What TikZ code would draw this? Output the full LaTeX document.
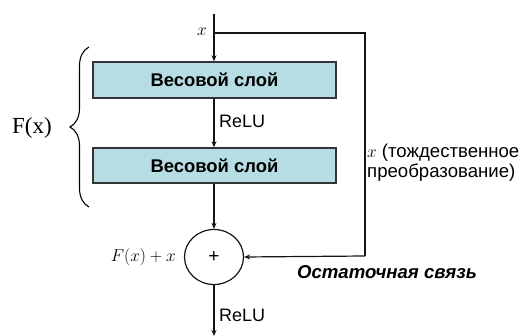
\documentclass[tikz,border=0pt]{standalone}
\usepackage{fontspec}
\setmainfont{Liberation Sans}
\newfontfamily\serifF{Liberation Serif}
\usetikzlibrary{arrows.meta,shapes.geometric,decorations.pathreplacing}
\definecolor{boxfill}{RGB}{183,221,228}
\definecolor{lineclr}{RGB}{20,20,20}
\begin{document}
\begin{tikzpicture}[x=1pt,y=-1pt,
  conn/.style={draw=lineclr,line width=1.2pt,-{Stealth[length=6pt,width=5pt]}},
  plain/.style={draw=lineclr,line width=1.2pt},
  layerbox/.style={draw=black!80,line width=1.4pt,fill=boxfill,minimum width=243pt,
     inner sep=0pt,font=\fontsize{18.4}{20}\selectfont\bfseries},
  sumnode/.style={ellipse,draw=lineclr,line width=1.2pt,minimum width=59pt,minimum height=55pt,
     inner sep=0pt,font=\fontsize{19}{20}\selectfont},
  lbl/.style={font=\fontsize{18}{20}\selectfont,inner sep=0pt},
  mlbl/.style={font=\fontsize{19}{20}\selectfont,inner sep=0pt}]
\useasboundingbox (0,0) rectangle (525,336);
\coordinate (top) at (214,14);
\coordinate (split) at (214,33);
\node[layerbox,minimum height=36pt] (w1) at (214.5,80) {Весовой слой};
\node[layerbox,minimum height=35pt] (w2) at (214.5,165.5) {Весовой слой};
\node[sumnode] (sum) at (214,257) {+};
\coordinate (bot) at (214,336);
\coordinate (rt) at (365,33);
\coordinate (rb) at (365,256);
\draw[conn] (top) -- (w1.north -| top);
\draw[conn] (w1.south -| top) -- (w2.north -| top);
\draw[conn] (w2.south -| top) -- (sum.north);
\draw[conn] (sum.south) -- (bot);
\draw[plain] (split) -- (rt) -- (rb);
\draw[conn] (rb) -- (sum.east);
\node[mlbl,anchor=east] (xl) at (207,32) {$x$};
\node[lbl,anchor=west] (relu1) at (219,121) {ReLU};
\node[lbl,anchor=west] (relu2) at (219,315) {ReLU};
\node[mlbl,anchor=east] (fx) at (176,257) {$F(x)+x$};
\node[lbl,font=\fontsize{18.6}{20}\selectfont,anchor=west,align=left] (ident) at (367,163) {$x$ (тождественное\\[0pt]преобразование)};
\node[lbl,font=\fontsize{18.6}{20}\selectfont\bfseries\itshape] (res) at (387,272) {Остаточная связь};
\coordinate (bt) at (89,47);
\coordinate (bb) at (89,207);
\draw[line width=1.1pt,decorate,decoration={brace,amplitude=19pt}] (bb) -- (bt);
\node[inner sep=0pt,font=\serifF\fontsize{23}{24}\selectfont] (fxl) at (32,128) {F(x)};
\end{tikzpicture}
\end{document}
